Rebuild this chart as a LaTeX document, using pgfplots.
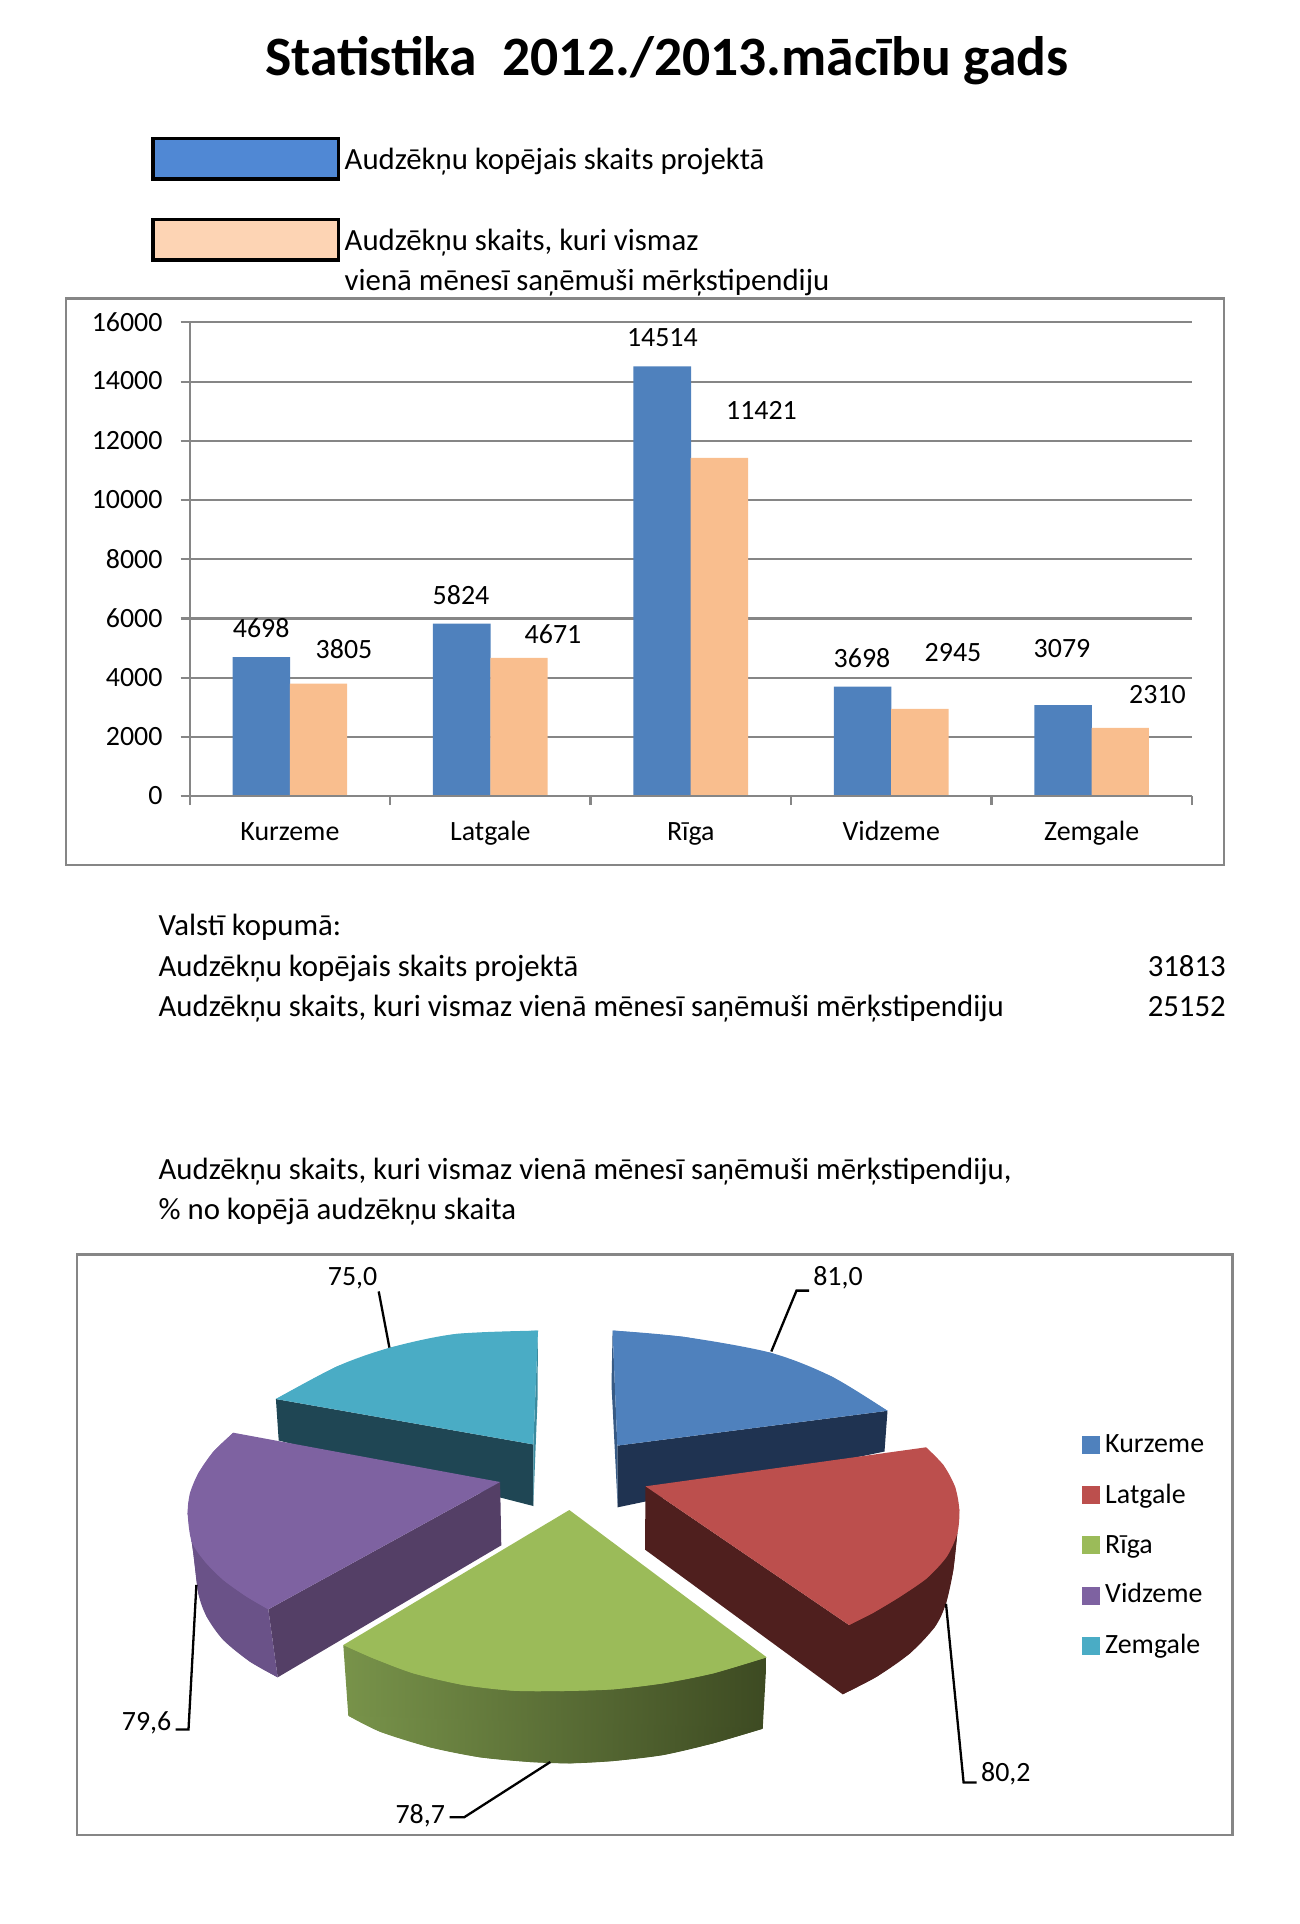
\documentclass[border=0pt]{standalone}
\usepackage{pgfplots}
\pgfplotsset{compat=1.18}
\usepackage{fontspec}
\setmainfont{Carlito}
\definecolor{fr}{HTML}{868686}
\definecolor{barb}{HTML}{4F81BD}
\definecolor{baro}{HTML}{F9BE8E}
\definecolor{legb}{HTML}{5088D4}
\definecolor{lego}{HTML}{FDD4B4}
\definecolor{pb}{HTML}{4F81BD}
\definecolor{pbd}{HTML}{1F3351}
\definecolor{pr}{HTML}{BC4F4D}
\definecolor{prd}{HTML}{4F1F1E}
\definecolor{pg}{HTML}{9BBB59}
\definecolor{pgl}{HTML}{78934A}
\definecolor{pgr}{HTML}{3D4A22}
\definecolor{pp}{HTML}{7E62A1}
\definecolor{ppd}{HTML}{543F66}
\definecolor{ppm}{HTML}{6A5288}
\definecolor{pt}{HTML}{4AACC5}
\definecolor{ptd}{HTML}{1F4654}
\pgfplotstableread{
x blue orange
0.5 4698 3805
1.5 5824 4671
2.5 14514 11421
3.5 3698 2945
4.5 3079 2310
}\bardata
\newcommand{\fs}{\fontsize{27.9pt}{32pt}\selectfont}
\newcommand{\fb}{\fontsize{30.8pt}{36pt}\selectfont}
\begin{document}
\begin{tikzpicture}[x=1pt,y=1pt,every node/.style={inner sep=0pt}]
\path[use as bounding box] (0,0) rectangle (1300pt,1924pt);
% bar chart
\begin{axis}[
  at={(189.7pt,1127.8pt)},anchor=south west,scale only axis,
  width=1002.2pt,height=473.8pt,
  xmin=0,xmax=5,ymin=0,ymax=16000,
  axis x line=bottom,axis y line=left,
  axis line style={draw=fr,line width=2.2pt,-},
  ytick={0,2000,4000,6000,8000,10000,12000,14000,16000},
  scaled y ticks=false,
  yticklabel style={/pgf/number format/fixed,/pgf/number format/1000 sep={},/pgf/number format/assume math mode=true},
  xtick={0,1,2,3,4,5},
  x tick label as interval,
  xticklabels={Kurzeme,Latgale,Rīga,Vidzeme,Zemgale},
  tick align=outside,major tick length=9pt,
  every tick/.style={draw=fr,line width=2.2pt},
  ymajorgrids,
  grid style={draw=fr,line width=2.2pt},
  tick label style={font=\fs,inner sep=0pt},
  y tick label style={xshift=-18pt,yshift=0.6pt},
  x tick label style={yshift=-16.8pt,text height=18pt,text depth=6pt},
  clip=false,
]
\addplot[ybar,bar width=57.6pt,bar shift=-28.6pt,fill=barb,draw=none] table[x=x,y=blue]{\bardata};
\addplot[ybar,bar width=57.4pt,bar shift=28.6pt,fill=baro,draw=none] table[x=x,y=orange]{\bardata};
\addplot[draw=fr,line width=2.2pt] coordinates {(0,0) (5,0)};
\end{axis}
% page layer
\begin{axis}[
  at={(0,0)},anchor=south west,scale only axis,
  width=1300pt,height=1924pt,
  xmin=0,xmax=1300,ymin=0,ymax=1924,y dir=reverse,
  hide axis,clip=false,
]
% frames
\addplot[draw=fr,line width=2.5pt] coordinates {(65.8,298.3) (1224.2,298.3) (1224.2,865) (65.8,865)} -- cycle;
\addplot[draw=fr,line width=2.5pt] coordinates {(77,1254.6) (1232.6,1254.6) (1232.6,1835) (77,1835)} -- cycle;
% top legend
\addplot[draw=black,fill=legb,line width=3.5pt] coordinates {(153,138.7) (338.5,138.7) (338.5,179) (153,179)} -- cycle;
\addplot[draw=black,fill=lego,line width=3.5pt] coordinates {(153,219.7) (338.5,219.7) (338.5,260) (153,260)} -- cycle;
\node[anchor=base,font=\fontsize{55.6pt}{60pt}\selectfont\bfseries] at (axis cs:667,76) {Statistika\ \ 2012./2013.mācību gads};
\node[anchor=base west,font=\fb] at (axis cs:344.5,170) {Audzēkņu kopējais skaits projektā};
\node[anchor=base west,font=\fb] at (axis cs:344.5,250) {Audzēkņu skaits, kuri vismaz};
\node[anchor=base west,font=\fb] at (axis cs:344.5,290) {vienā mēnesī saņēmuši mērķstipendiju};
% bar value labels
\node[anchor=base,font=\fs] at (axis cs:261.2,637) {4698};
\node[anchor=base,font=\fs] at (axis cs:344,658) {3805};
\node[anchor=base,font=\fs] at (axis cs:461,604) {5824};
\node[anchor=base,font=\fs] at (axis cs:553,643) {4671};
\node[anchor=base,font=\fs] at (axis cs:662.4,346.5) {14514};
\node[anchor=base,font=\fs] at (axis cs:761.5,419) {11421};
\node[anchor=base,font=\fs] at (axis cs:862,667) {3698};
\node[anchor=base,font=\fs] at (axis cs:953,661.5) {2945};
\node[anchor=base,font=\fs] at (axis cs:1062,657) {3079};
\node[anchor=base,font=\fs] at (axis cs:1157.5,703.5) {2310};
% middle text
\node[anchor=base west,font=\fb] at (axis cs:158.4,935) {Valstī kopumā:};
\node[anchor=base west,font=\fb] at (axis cs:158.4,976.5) {Audzēkņu kopējais skaits projektā};
\node[anchor=base east,font=\fb] at (axis cs:1226,976.5) {31813};
\node[anchor=base west,font=\fb] at (axis cs:158.4,1016) {Audzēkņu skaits, kuri vismaz vienā mēnesī saņēmuši mērķstipendiju};
\node[anchor=base east,font=\fb] at (axis cs:1226,1016) {25152};
\node[anchor=base west,font=\fb] at (axis cs:158.4,1179) {Audzēkņu skaits, kuri vismaz vienā mēnesī saņēmuši mērķstipendiju,};
\node[anchor=base west,font=\fb] at (axis cs:158.4,1219) {\% no kopējā audzēkņu skaita};
% Zemgale
\addplot[fill=ptd,draw=none] coordinates {(275.9,1399) (278.7,1440.5) (533.3,1506) (533.3,1444.4)} -- cycle;
\addplot[fill=pt!80!black,draw=none] coordinates {(538,1330.6) (537.5,1400) (533.3,1506) (533.3,1444.4)} -- cycle;
\addplot[fill=pt,draw=none] coordinates {(533.3,1444.4) (275.9,1399) (336.8,1366.5) (390.2,1347.6) (455.4,1334) (538,1330.6)} -- cycle;
\addplot[fill=pt,draw=none,smooth] coordinates {(275.9,1399) (336.8,1366.5) (390.2,1347.6) (455.4,1334) (538,1330.6)} -- cycle;
% Kurzeme
\addplot[fill=pbd,draw=none] coordinates {(617.3,1445.6) (887.5,1410.8) (884.5,1451.5) (617.7,1507.3)} -- cycle;
\addplot[fill=pb!70!black,draw=none] coordinates {(612.6,1330.5) (611.5,1385) (617.7,1507.3) (617.3,1445.6)} -- cycle;
\addplot[fill=pb,draw=none] coordinates {(617.3,1445.6) (612.6,1330.5) (684.2,1336.9) (770.5,1352.7) (831.5,1376.4) (887.5,1410.8)} -- cycle;
\addplot[fill=pb,draw=none,smooth] coordinates {(612.6,1330.5) (684.2,1336.9) (770.5,1352.7) (831.5,1376.4) (887.5,1410.8)} -- cycle;
% Vidzeme
\addplot[fill=ppd,draw=none] coordinates {(500.1,1482) (501.3,1545.3) (277.7,1677.3) (268.3,1609.3)} -- cycle;
\addplot[fill=ppm,draw=none] coordinates {(187.7,1513.3) (193.3,1553.3) (198.3,1593.3) (206.7,1616.7) (223.3,1640) (250,1661.7) (277.7,1677.3) (268.3,1609.3)} -- cycle;
\addplot[fill=ppm,draw=none,smooth] coordinates {(187.7,1513.3) (193.3,1553.3) (198.3,1593.3) (206.7,1616.7) (223.3,1640) (250,1661.7) (277.7,1677.3)} -- cycle;
\addplot[fill=pp,draw=none] coordinates {(500.1,1482) (233.3,1432.7) (213.3,1451.7) (198.3,1473.3) (190,1493.3) (187.7,1513.3) (191.7,1541.7) (205,1561.7) (223.3,1580) (246.7,1596.7) (268.3,1609.3)} -- cycle;
\addplot[fill=pp,draw=none,smooth] coordinates {(233.3,1432.7) (213.3,1451.7) (198.3,1473.3) (190,1493.3) (187.7,1513.3) (191.7,1541.7) (205,1561.7) (223.3,1580) (246.7,1596.7) (268.3,1609.3)} -- cycle;
% Riga
\addplot[left color=pgl,right color=pgr,draw=none] coordinates {(343.3,1645) (348.3,1715.7) (380,1731.7) (430,1747.3) (480,1757.3) (530,1762) (570,1763.3) (613.3,1761) (663.3,1755) (713.3,1743.3) (762.7,1728.7) (766.7,1657.3)} -- cycle;
\addplot[left color=pgl,right color=pgr,draw=none,smooth] coordinates {(348.3,1715.7) (380,1731.7) (430,1747.3) (480,1757.3) (530,1762) (570,1763.3) (613.3,1761) (663.3,1755) (713.3,1743.3) (762.7,1728.7)} -- cycle;
\addplot[fill=pg,draw=none] coordinates {(569.3,1510) (343.3,1645) (373.3,1658.3) (413.3,1673.3) (463.3,1685) (513.3,1690.7) (563.3,1691) (613.3,1689.3) (663.3,1683.3) (713.3,1673.3) (766.7,1657.3)} -- cycle;
\addplot[fill=pg,draw=none,smooth] coordinates {(343.3,1645) (373.3,1658.3) (413.3,1673.3) (463.3,1685) (513.3,1690.7) (563.3,1691) (613.3,1689.3) (663.3,1683.3) (713.3,1673.3) (766.7,1657.3)} -- cycle;
% Latgale
\addplot[fill=prd,draw=none] coordinates {(645.5,1486.3) (645,1549.6) (842.7,1694.3) (876.7,1676.7) (910,1653.3) (935,1626.7) (946,1603.3) (953.3,1570) (957.3,1533.3) (849,1625)} -- cycle;
\addplot[fill=prd,draw=none,smooth] coordinates {(842.7,1694.3) (876.7,1676.7) (910,1653.3) (935,1626.7) (946,1603.3) (953.3,1570) (957.3,1533.3)} -- cycle;
\addplot[fill=pr,draw=none] coordinates {(645.5,1486.3) (926,1447.3) (943.3,1465) (955,1486.7) (959.3,1510) (957.3,1533.3) (946.7,1556.7) (926.7,1578.3) (900,1596.7) (873.3,1612.7) (849,1625)} -- cycle;
\addplot[fill=pr,draw=none,smooth] coordinates {(926,1447.3) (943.3,1465) (955,1486.7) (959.3,1510) (957.3,1533.3) (946.7,1556.7) (926.7,1578.3) (900,1596.7) (873.3,1612.7) (849,1625)} -- cycle;
% leader lines
\addplot[draw=black,line width=2.3pt] coordinates {(378.7,1291.4) (389.4,1347.6)};
\addplot[draw=black,line width=2.3pt] coordinates {(809.2,1290.6) (796.5,1290.6) (771.3,1351.5)};
\addplot[draw=black,line width=2.3pt] coordinates {(976.7,1782.5) (963.6,1782.5) (946,1603.8)};
\addplot[draw=black,line width=2.3pt] coordinates {(449.5,1817.3) (464.1,1817.3) (550.3,1762)};
\addplot[draw=black,line width=2.3pt] coordinates {(175.5,1729.5) (188.5,1729.5) (196.4,1584.8)};
\node[anchor=base,font=\fs] at (axis cs:352.6,1285.5) {75,0};
\node[anchor=base,font=\fs] at (axis cs:838,1285.5) {81,0};
\node[anchor=base,font=\fs] at (axis cs:1005.8,1781.7) {80,2};
\node[anchor=base,font=\fs] at (axis cs:420.2,1823.6) {78,7};
\node[anchor=base,font=\fs] at (axis cs:146.6,1730.3) {79,6};
% pie legend
\addplot[only marks,mark=square*,mark size=8.5pt,color=pb] coordinates {(1091,1444.6)};
\addplot[only marks,mark=square*,mark size=8.5pt,color=pr] coordinates {(1091,1494.6)};
\addplot[only marks,mark=square*,mark size=8.5pt,color=pg] coordinates {(1091,1545.1)};
\addplot[only marks,mark=square*,mark size=8.5pt,color=pp] coordinates {(1091,1595.3)};
\addplot[only marks,mark=square*,mark size=8.5pt,color=pt] coordinates {(1091,1645.9)};
\node[anchor=base west,font=\fs] at (axis cs:1105,1452.7) {Kurzeme};
\node[anchor=base west,font=\fs] at (axis cs:1105,1503) {Latgale};
\node[anchor=base west,font=\fs] at (axis cs:1105,1553) {Rīga};
\node[anchor=base west,font=\fs] at (axis cs:1105,1602.6) {Vidzeme};
\node[anchor=base west,font=\fs] at (axis cs:1105,1653.2) {Zemgale};
\end{axis}
\end{tikzpicture}
\end{document}
